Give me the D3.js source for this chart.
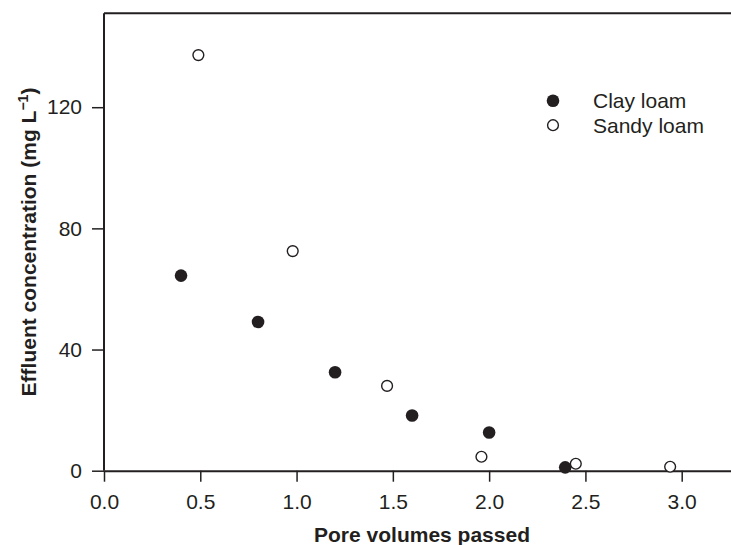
<!DOCTYPE html>
<html>
<head>
<meta charset="utf-8">
<script src="https://cdn.jsdelivr.net/npm/d3@7"></script>
<style>
  body { margin: 0; background: #fff; }
  svg { display: block; font-family: "Liberation Sans", Arial, sans-serif; }
</style>
</head>
<body>
<svg id="chart" width="731" height="545"></svg>
<script>
// values
const clayX = [0.4, 0.8, 1.2, 1.6, 2.0, 2.395];
const clayY = [64.4, 49.1, 32.5, 18.2, 12.6, 1.1];
const sandyX = [0.49, 0.98, 1.47, 1.96, 2.45, 2.94];
const sandyY = [137.2, 72.5, 28, 4.6, 2.3, 1.3];
const xTicks = [0, 0.5, 1.0, 1.5, 2.0, 2.5, 3.0];
const yTicks = [0, 40, 80, 120];
const seriesNames = ["Clay loam", "Sandy loam"];

const ink = "#231f20";
const svg = d3.select("#chart");
const margin = { top: 13.3, left: 104, bottom: 74.3 };
const width = 731, height = 545;

const x = d3.scaleLinear().domain([0, 3.256]).range([margin.left, width]);
const y = d3.scaleLinear().domain([0, 151]).range([height - margin.bottom, margin.top]);

// frame: top line
svg.append("line").attr("x1", margin.left).attr("x2", width)
  .attr("y1", margin.top).attr("y2", margin.top)
  .attr("stroke", ink).attr("stroke-width", 2);

const xAxis = svg.append("g").attr("transform", `translate(0,${y(0)})`)
  .call(d3.axisBottom(x).tickValues(xTicks).tickFormat(d3.format(".1f")).tickSize(11).tickSizeOuter(0).tickPadding(12));
const yAxis = svg.append("g").attr("transform", `translate(${margin.left},0)`)
  .call(d3.axisLeft(y).tickValues(yTicks).tickSize(12).tickSizeOuter(0).tickPadding(10));

[xAxis, yAxis].forEach(g => {
  g.select(".domain").attr("stroke", ink).attr("stroke-width", 2);
  g.selectAll(".tick line").attr("stroke", ink).attr("stroke-width", 1.5);
  g.selectAll(".tick text").attr("fill", ink).style("font-size", "21px").style("font-family", "Liberation Sans, Arial, sans-serif");
});
yAxis.select(".domain").attr("d", `M0,${y(0)}V${margin.top}`);

// points
svg.selectAll(".sandy").data(sandyX).join("circle").attr("class", "sandy")
  .attr("cx", (d) => x(d)).attr("cy", (d, i) => y(sandyY[i])).attr("r", 5.4)
  .attr("fill", "#fff").attr("stroke", ink).attr("stroke-width", 1.4);
svg.selectAll(".clay").data(clayX).join("circle").attr("class", "clay")
  .attr("cx", (d) => x(d)).attr("cy", (d, i) => y(clayY[i])).attr("r", 6.3)
  .attr("fill", ink);

// legend
const legend = svg.selectAll(".legend").data(seriesNames).join("g").attr("class", "legend")
  .attr("transform", (d, i) => `translate(553,${100.7 + i * 24.5})`);
legend.append("circle").attr("r", (d, i) => i === 0 ? 6.3 : 5.4)
  .attr("fill", (d, i) => i === 0 ? ink : "#fff").attr("stroke", ink).attr("stroke-width", (d, i) => i === 0 ? 0 : 1.4);
legend.append("text").attr("x", 40).attr("y", 7.5).text((d) => d)
  .attr("fill", ink).style("font-size", "21px");

// axis titles
svg.append("text").attr("x", 422).attr("y", 542).attr("text-anchor", "middle")
  .attr("fill", ink).style("font-size", "21px").style("font-weight", "bold")
  .text("Pore volumes passed");

const yt = svg.append("text").attr("transform", "translate(36,242) rotate(-90)")
  .attr("text-anchor", "middle").attr("fill", ink).style("font-size", "21px").style("font-weight", "bold");
yt.append("tspan").text("Effluent concentration (mg L");
yt.append("tspan").attr("dy", -8).style("font-size", "14px").text("\u22121");
yt.append("tspan").attr("dy", 8).text(")");
</script>
</body>
</html>
